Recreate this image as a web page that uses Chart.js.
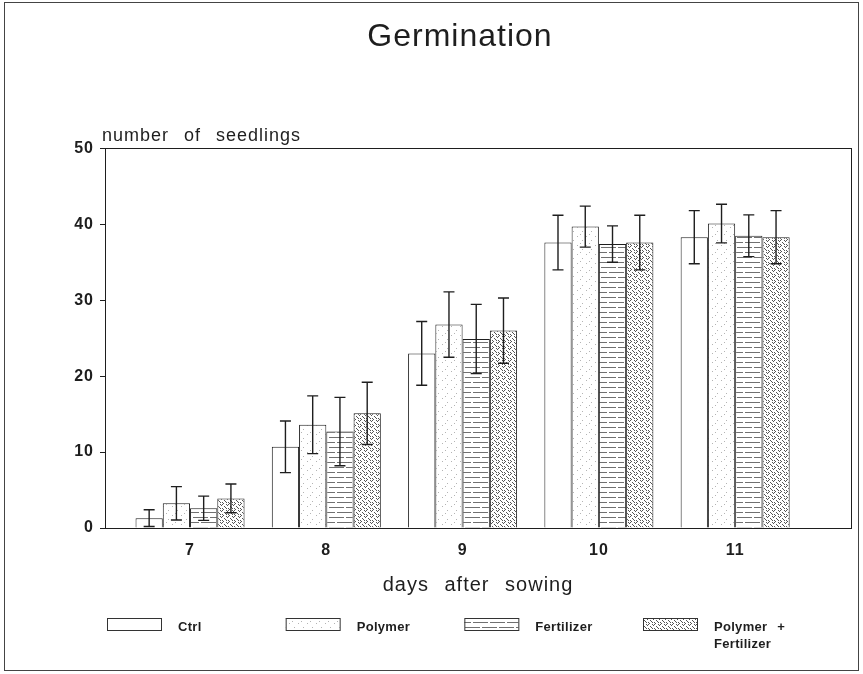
<!DOCTYPE html>
<html>
<head>
<meta charset="utf-8">
<script src="https://cdn.jsdelivr.net/npm/chart.js@4/dist/chart.umd.min.js"></script>
<style>
    html, body { margin: 0; padding: 0; background: #fff; }
</style>
</head>
<body>
<canvas id="myChart" width="863" height="674"></canvas>
<script>
// days after sowing
const days = [7, 8, 9, 10, 11];
const seriesNames = ['Ctrl', 'Polymer', 'Fertilizer', 'Polymer +|Fertilizer'];

// mean number of seedlings
const ctrlValues = [1.3, 10.7, 23.0, 37.6, 38.3];
const polymerValues = [3.25, 13.6, 26.8, 39.7, 40.1];
const fertValues = [2.6, 12.7, 24.9, 37.4, 38.5];
const polyFertValues = [3.9, 15.1, 26.0, 37.6, 38.3];

// error bar half lengths
const ctrlErr = [1.1, 3.4, 4.2, 3.6, 3.5];
const polymerErr = [2.2, 3.8, 4.3, 2.7, 2.55];
const fertErr = [1.6, 4.5, 4.55, 2.4, 2.75];
const polyFertErr = [1.9, 4.1, 4.3, 3.6, 3.5];

const yTicks = [0, 10, 20, 30, 40, 50];

const FONT = "'Liberation Sans', Arial, sans-serif";
const INK = '#1e1e1e';

function makePattern(kind) {
    const c = document.createElement('canvas');
    const g = c.getContext('2d');
    if (kind === 'dots') {
        c.width = 9; c.height = 9;
        g.fillStyle = '#fff'; g.fillRect(0, 0, 9, 9);
        g.fillStyle = '#b4b4b4';
        g.fillRect(1, 2, 1, 1);
        g.fillRect(6, 6, 1, 1);
        g.fillRect(4, 0, 1, 1);
    } else if (kind === 'lines') {
        c.width = 17; c.height = 10;
        g.fillStyle = '#fff'; g.fillRect(0, 0, 17, 10);
        g.fillStyle = '#707070';
        g.fillRect(0, 2, 12, 1);
        g.fillRect(14, 2, 3, 1);
        g.fillRect(0, 7, 4, 1);
        g.fillRect(6, 7, 11, 1);
    } else if (kind === 'cross') {
        c.width = 6; c.height = 6;
        g.fillStyle = '#fff'; g.fillRect(0, 0, 6, 6);
        g.fillStyle = '#555';
        g.fillRect(0, 0, 1, 1); g.fillRect(2, 2, 1, 1);
        g.fillRect(4, 4, 1, 1); g.fillRect(4, 0, 1, 1);
        g.fillRect(0, 4, 1, 1); g.fillRect(3, 3, 1, 1);
        g.fillRect(1, 5, 1, 1); g.fillRect(5, 1, 1, 1);
    } else {
        c.width = 2; c.height = 2;
        g.fillStyle = '#fff'; g.fillRect(0, 0, 2, 2);
    }
    return g.createPattern(c, 'repeat');
}

const seriesValues = [ctrlValues, polymerValues, fertValues, polyFertValues];
const seriesErr = [ctrlErr, polymerErr, fertErr, polyFertErr];
const seriesFills = [makePattern('plain'), makePattern('dots'), makePattern('lines'), makePattern('cross')];

const decorPlugin = {
    id: 'decor',
    beforeDraw(chart) {
        const ctx = chart.ctx;
        ctx.save();
        ctx.fillStyle = '#fff';
        ctx.fillRect(0, 0, chart.width, chart.height);
        ctx.restore();
        ctx.letterSpacing = '1px';
        ctx.wordSpacing = '9px';
    },
    afterDatasetsDraw(chart) {
        const ctx = chart.ctx;
        const yScale = chart.scales.y;
        ctx.save();
        ctx.strokeStyle = INK;
        ctx.lineWidth = 1.4;
        chart.data.datasets.forEach((ds, di) => {
            const meta = chart.getDatasetMeta(di);
            meta.data.forEach((bar, i) => {
                const v = ds.data[i].y;
                const e = seriesErr[di][i];
                const top = yScale.getPixelForValue(v + e);
                const bot = yScale.getPixelForValue(v - e);
                ctx.beginPath();
                ctx.moveTo(bar.x, top); ctx.lineTo(bar.x, bot);
                ctx.moveTo(bar.x - 5.5, top); ctx.lineTo(bar.x + 5.5, top);
                ctx.moveTo(bar.x - 5.5, bot); ctx.lineTo(bar.x + 5.5, bot);
                ctx.stroke();
            });
        });
        ctx.restore();
    },
    afterDraw(chart) {
        const ctx = chart.ctx;
        const a = chart.chartArea;
        ctx.save();
        ctx.strokeStyle = INK;
        ctx.lineWidth = 1;
        ctx.strokeRect(Math.round(a.left) + 0.5, Math.round(a.top) + 0.5,
            Math.round(a.right - a.left), Math.round(a.bottom - a.top));
        ctx.strokeStyle = '#444';
        ctx.strokeRect(4.5, 2.5, chart.width - 9, chart.height - 6);

        // y axis title above the axis
        ctx.fillStyle = INK;
        ctx.font = '18px ' + FONT;
        ctx.textAlign = 'left';
        ctx.textBaseline = 'alphabetic';
        ctx.fillText('number of seedlings', a.left - 3, a.top - 7);

        // legend
        ctx.wordSpacing = '6px';
        ctx.letterSpacing = '0.3px';
        ctx.font = 'bold 13px ' + FONT;
        ctx.textBaseline = 'middle';
        const step = (a.right - a.left) * 0.2395;
        seriesNames.forEach((name, i) => {
            const x0 = a.left + 2 + step * i;
            const y0 = 618;
            ctx.fillStyle = seriesFills[i];
            ctx.fillRect(x0, y0, 54, 12);
            ctx.strokeStyle = '#333';
            ctx.strokeRect(x0 + 0.5, y0 + 0.5, 54, 12);
            ctx.fillStyle = INK;
            name.split('|').forEach((line, k) => {
                ctx.fillText(line, x0 + 71, y0 + 9 + k * 17);
            });
        });
        ctx.restore();
    }
};

const ctx = document.getElementById('myChart').getContext('2d');
const myChart = new Chart(ctx, {
    type: 'bar',
    data: {
        datasets: seriesValues.map((vals, i) => ({
            label: seriesNames[i].replace('|', ' '),
            data: days.map((d, k) => ({ x: d, y: vals[k] })),
            backgroundColor: seriesFills[i],
            borderColor: INK,
            borderWidth: 1,
            categoryPercentage: 0.8,
            barPercentage: 1.0
        }))
    },
    options: {
        responsive: false,
        animation: false,
        layout: {
            padding: { left: 69, right: 12, top: 8, bottom: 76 }
        },
        scales: {
            x: {
                type: 'linear',
                offset: false,
                min: 6.376,
                max: 11.85,
                afterBuildTicks: (scale) => {
                    scale.ticks = days.map(d => ({ value: d }));
                },
                afterFit: (scale) => { scale.height = 70; },
                grid: { display: false, drawTicks: false, offset: false },
                ticks: {
                    color: INK,
                    padding: 13,
                    font: { family: FONT, size: 16, weight: 'bold' },
                    callback: (v) => String(v)
                },
                title: {
                    display: true,
                    text: 'days after sowing',
                    color: INK,
                    font: { family: FONT, size: 20 },
                    padding: { top: 0, bottom: 1 }
                }
            },
            y: {
                min: 0,
                max: 50,
                afterBuildTicks: (scale) => {
                    scale.ticks = yTicks.map(v => ({ value: v }));
                },
                afterFit: (scale) => { scale.width = 36; },
                grid: {
                    display: true,
                    drawOnChartArea: false,
                    drawTicks: true,
                    tickLength: 5,
                    color: INK
                },
                ticks: {
                    color: INK,
                    padding: 6,
                    font: { family: FONT, size: 16, weight: 'bold' }
                }
            }
        },
        plugins: {
            legend: { display: false },
            tooltip: { enabled: false },
            title: {
                display: true,
                text: 'Germination',
                color: INK,
                font: { family: FONT, size: 32, weight: 'normal' },
                padding: { top: 10, bottom: 92 }
            }
        }
    },
    plugins: [decorPlugin]
});
</script>
</body>
</html>
